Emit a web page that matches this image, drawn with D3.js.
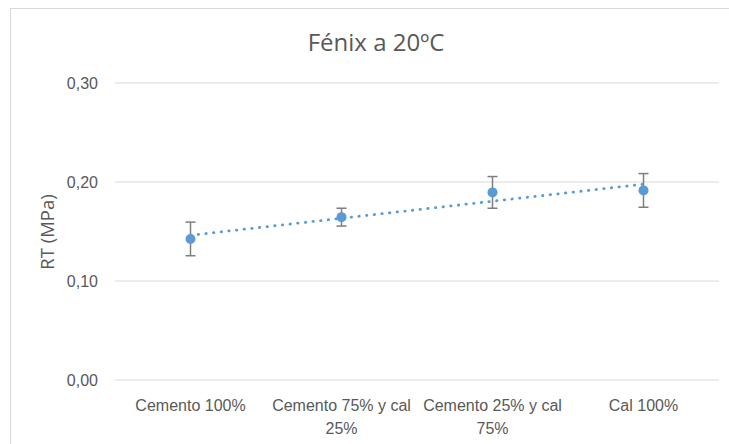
<!DOCTYPE html>
<html>
<head>
<meta charset="utf-8">
<script src="https://cdn.jsdelivr.net/npm/d3@7"></script>
<style>
  html, body { margin: 0; padding: 0; background: #ffffff; }
  svg { display: block; font-family: "Open Sans", "Noto Sans", sans-serif; }
</style>
</head>
<body>
<svg id="chart" width="729" height="444"></svg>
<script>
// Tensile strength (RT) of the "Fénix" mortar at 20 ºC by binder mix
const categories = ["Cemento 100%", "Cemento 75% y cal 25%", "Cemento 25% y cal 75%", "Cal 100%"];
const rtValues = [0.142, 0.164, 0.189, 0.191];
const rtErrors = [0.017, 0.009, 0.016, 0.017];
const yTicks = [0, 0.10, 0.20, 0.30];
const titleText = "Fénix a 20ºC";
const yAxisTitle = "RT (MPa)";

const svg = d3.select("#chart");
const W = 729, H = 444;
const plot = { left: 115, right: 719, top: 82.5, bottom: 379.5 };
const textColor = "#595959";
const gridColor = "#d9d9d9";
const seriesColor = "#5b9bd5";
const errColor = "#7f7f7f";

// Chart frame
svg.append("rect")
  .attr("x", 10.5).attr("y", 8.5)
  .attr("width", W + 10).attr("height", H + 10)
  .attr("fill", "#ffffff").attr("stroke", gridColor).attr("stroke-width", 1);

const x = d3.scaleBand().domain(categories).range([plot.left, plot.right]);
const y = d3.scaleLinear().domain([0, 0.30]).range([plot.bottom, plot.top]);

// Horizontal gridlines + value labels
const yAxis = d3.axisLeft(y)
  .tickValues(yTicks)
  .tickSize(-(plot.right - plot.left))
  .tickPadding(17)
  .tickFormat(d => d3.format(".2f")(d).replace(".", ","));

const gy = svg.append("g")
  .attr("transform", `translate(${plot.left},0)`)
  .call(yAxis);
gy.select(".domain").remove();
gy.selectAll(".tick line").attr("stroke", gridColor).attr("stroke-width", 1);
gy.selectAll(".tick text")
  .attr("fill", textColor)
  .attr("font-size", 16)
  .attr("dy", "0.36em");

// Category labels (wrapped to the band width)
const xAxis = d3.axisBottom(x).tickSize(0).tickPadding(0);
const gx = svg.append("g")
  .attr("transform", `translate(0,${plot.bottom})`)
  .call(xAxis);
gx.select(".domain").remove();
gx.selectAll(".tick text")
  .attr("fill", textColor)
  .attr("font-size", 16)
  .each(function(d) {
    const t = d3.select(this);
    const words = d.split(" ");
    t.text(null);
    const maxW = x.bandwidth();
    let line = [];
    let lineNo = 0;
    let tspan = t.append("tspan").attr("x", 0).attr("y", 31);
    for (const w of words) {
      line.push(w);
      tspan.text(line.join(" "));
      if (tspan.node().getComputedTextLength() > maxW && line.length > 1) {
        line.pop();
        tspan.text(line.join(" "));
        line = [w];
        lineNo++;
        tspan = t.append("tspan").attr("x", 0).attr("y", 31 + lineNo * 23).text(w);
      }
    }
  })
  .attr("dy", null);

// Title
svg.append("text")
  .attr("x", 376).attr("y", 51)
  .attr("text-anchor", "middle")
  .attr("fill", textColor)
  .attr("font-size", 24)
  .text(titleText);

// Y axis title
svg.append("text")
  .attr("transform", `translate(54,${(plot.top + plot.bottom) / 2 + 1}) rotate(-90)`)
  .attr("text-anchor", "middle")
  .attr("fill", textColor)
  .attr("font-size", 18.5)
  .text(yAxisTitle);

const cx = d => x(d) + x.bandwidth() / 2;
const data = categories.map((c, i) => ({ c, i, v: rtValues[i], e: rtErrors[i] }));

// Linear trendline (least squares over category index)
const n = data.length;
const mx = d3.mean(data, d => d.i);
const my = d3.mean(data, d => d.v);
const slope = d3.sum(data, d => (d.i - mx) * (d.v - my)) / d3.sum(data, d => (d.i - mx) ** 2);
const icpt = my - slope * mx;
const trend = [0, n - 1].map(i => [cx(categories[i]), y(icpt + slope * i)]);
svg.append("path")
  .attr("d", d3.line()(trend))
  .attr("fill", "none")
  .attr("stroke", seriesColor)
  .attr("stroke-width", 2.8)
  .attr("stroke-linecap", "round")
  .attr("stroke-dasharray", "0.4,7.3");

// Error bars
const eb = svg.append("g").selectAll("g").data(data).join("g");
eb.append("line")
  .attr("x1", d => cx(d.c)).attr("x2", d => cx(d.c))
  .attr("y1", d => y(d.v - d.e)).attr("y2", d => y(d.v + d.e))
  .attr("stroke", errColor).attr("stroke-width", 1.5);
eb.append("line")
  .attr("x1", d => cx(d.c) - 5).attr("x2", d => cx(d.c) + 5)
  .attr("y1", d => y(d.v + d.e)).attr("y2", d => y(d.v + d.e))
  .attr("stroke", errColor).attr("stroke-width", 1.5);
eb.append("line")
  .attr("x1", d => cx(d.c) - 5).attr("x2", d => cx(d.c) + 5)
  .attr("y1", d => y(d.v - d.e)).attr("y2", d => y(d.v - d.e))
  .attr("stroke", errColor).attr("stroke-width", 1.5);

// Markers
svg.append("g").selectAll("circle").data(data).join("circle")
  .attr("cx", d => cx(d.c))
  .attr("cy", d => y(d.v))
  .attr("r", 5)
  .attr("fill", seriesColor);
</script>
</body>
</html>
